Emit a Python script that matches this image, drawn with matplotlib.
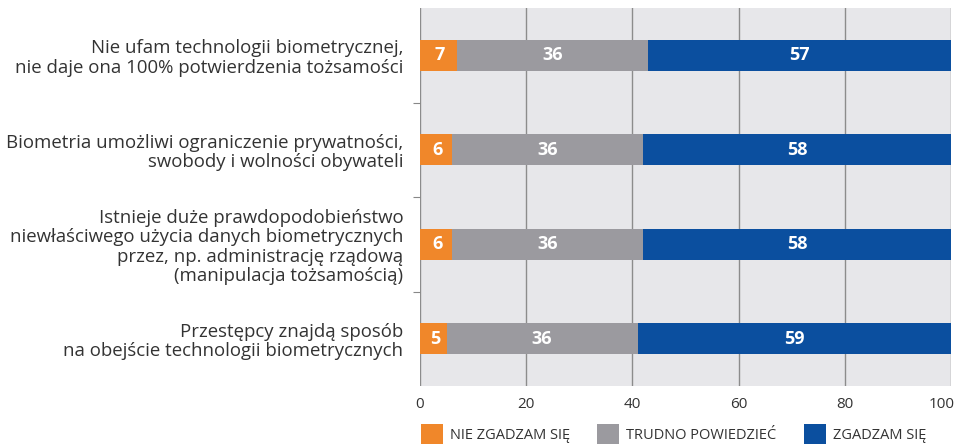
import matplotlib
matplotlib.use("Agg")
import matplotlib.pyplot as plt
import matplotlib.transforms as mtransforms
from matplotlib.patches import Patch
import numpy as np

plt.rcParams['font.family'] = ['Open Sans', 'DejaVu Sans']

categories = [
    "Nie ufam technologii biometrycznej,\nnie daje ona 100% potwierdzenia tożsamości",
    "Biometria umożliwi ograniczenie prywatności,\nswobody i wolności obywateli",
    "Istnieje duże prawdopodobieństwo\nniewłaściwego użycia danych biometrycznych\nprzez, np. administrację rządową\n(manipulacja tożsamością)",
    "Przestępcy znajdą sposób\nna obejście technologii biometrycznych",
]
nie = [7, 6, 6, 5]
trudno = [36, 36, 36, 36]
zgadzam = [57, 58, 58, 59]
series_names = ["NIE ZGADZAM SIĘ", "TRUDNO POWIEDZIEĆ", "ZGADZAM SIĘ"]
colors = ["#f0872a", "#9b9a9f", "#0b4f9f"]
xticks = [0, 20, 40, 60, 80, 100]

fig = plt.figure(figsize=(9.58, 4.47), dpi=100)
ax = fig.add_axes([420/958, 1-386/447, 531/958, 378/447])
ax.set_facecolor("#e7e7ea")

y = np.arange(len(categories))
h = 0.33
left = np.zeros(len(categories))
for vals, c in zip([nie, trudno, zgadzam], colors):
    vals = np.array(vals, dtype=float)
    ax.barh(y, vals, left=left, height=h, color=c, zorder=3)
    for yi, l, v in zip(y, left, vals):
        xt = l + v / 2 + (0.3 if c == colors[0] else 0)
        ax.text(xt, yi, f"{int(v)}", ha="center", va="center", color="white",
                fontsize=13, fontweight="bold", zorder=4)
    left += vals

ax.set_xlim(0, 100)
ax.set_ylim(len(categories) - 0.5, -0.5)
ax.set_xticks(xticks)
ax.set_xticklabels([str(t) for t in xticks], fontsize=11, color="#333333")
ax.set_yticks(y)
ax.set_yticklabels(categories, fontsize=13.4, color="#333333", linespacing=1.1)
ax.set_yticks(np.arange(0.5, len(categories) - 1, 1.0), minor=True)
ax.tick_params(axis="y", which="major", length=0, pad=12)
ax.tick_params(axis="y", which="minor", length=5, color="#888888", width=0.8)
ax.tick_params(axis="x", length=0, pad=8)
ax.grid(axis="x", color="#8c8c8c", linewidth=1.0, zorder=1)
for s in ax.spines.values():
    s.set_visible(False)

# keep the last tick label inside the figure
last = ax.get_xticklabels()[-1]
last.set_transform(last.get_transform() + mtransforms.ScaledTranslation(-9/100, 0, fig.dpi_scale_trans))

handles = [Patch(facecolor=c, edgecolor="none") for c in colors]
pos = [420, 596, 803]
for hd, name, px in zip(handles, series_names, pos):
    fig.legend([hd], [name], loc="center left",
               bbox_to_anchor=(px/958 - 0.013, 1-434/447), frameon=False,
               fontsize=10.5, handlelength=1.5, handleheight=1.7, handletextpad=0.5,
               labelcolor="#333333")

fig.savefig("out.png", dpi=100)
